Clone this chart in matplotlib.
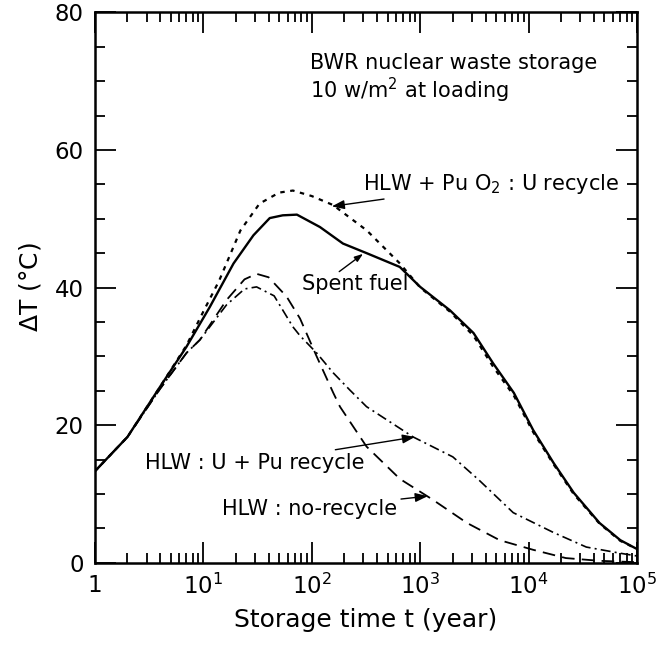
import numpy as np
import matplotlib
matplotlib.use('Agg')
from matplotlib import pyplot as plt
from matplotlib.ticker import FixedLocator, NullFormatter

# spent fuel (solid)
t_sf = [1, 2, 4, 7, 11.5, 19, 29, 41, 54, 73, 119, 194, 321, 648, 1000,
        1880, 3100, 4700, 7300, 11000, 17000, 26000, 45000, 70000, 100000]
y_sf = [13.3, 18.3, 25.6, 31.4, 37.2, 43.5, 47.6, 50.1, 50.5, 50.6, 48.8, 46.4, 45, 43, 40.1,
        36.7, 33.4, 29, 24.7, 19.3, 14.5, 10.2, 5.8, 3.3, 2.0]
# HLW + PuO2 : U recycle (dotted)
t_pu = [1, 2, 4, 7, 10, 14, 22, 33, 50, 67, 100, 157, 322, 650, 1000,
        1880, 3100, 4700, 7300, 11000, 17000, 26000, 45000, 70000, 100000]
y_pu = [13.3, 18.3, 25.6, 31.6, 36.5, 41, 48.3, 52.2, 53.8, 54.1, 53.3, 52, 48.3, 43.5, 40,
        36.5, 33, 28.5, 24.3, 19, 14.3, 10, 5.7, 3.2, 2.0]
# HLW : no-recycle (dashed)
t_nr = [1, 2, 4, 7, 9.3, 16.4, 24, 31, 40, 58.6, 78, 111, 158, 182, 320, 650,
        1300, 2700, 5400, 11000, 22000, 45000, 100000]
y_nr = [13.3, 18.3, 25.3, 30.5, 32.4, 38.2, 41.2, 42, 41.5, 38.7, 35.5, 30, 24.7, 22.7, 16.9, 12.2,
        9.2, 5.8, 3.3, 1.9, 0.7, 0.3, 0.1]
# HLW : U + Pu recycle (dash-dot)
t_up = [1, 2, 4, 7, 9.3, 16.4, 24, 31, 45, 67, 78, 111, 158, 225, 320, 860,
        2000, 3500, 7200, 17000, 34000, 70000, 100000]
y_up = [13.3, 18.3, 25.3, 30.5, 32.4, 37.5, 39.8, 40.1, 38.8, 34.3, 33, 30.5, 27.6, 25.1, 22.7, 18.3,
        15.4, 12, 7.3, 4.4, 2.3, 1.4, 1.0]

xticks = [1, 10, 100, 1000, 10000, 100000]
xticklabels = ['1', r'$10^{1}$', r'$10^{2}$', r'$10^{3}$', r'$10^{4}$', r'$10^{5}$']
yticks = [0, 20, 40, 60, 80]

plt.rcParams['font.family'] = ['DejaVu Sans']
plt.rcParams['mathtext.default'] = 'regular'

fig = plt.figure(figsize=(6.63, 6.47), dpi=100)
ax = fig.add_axes([0.143, 0.130, 0.818, 0.851])

ax.plot(t_sf, y_sf, color='black', lw=1.7, ls='-')
ax.plot(t_pu, y_pu, color='black', lw=1.6, ls=(0, (2, 2.5)))
ax.plot(t_nr, y_nr, color='black', lw=1.3, ls=(0, (7, 4)))
ax.plot(t_up, y_up, color='black', lw=1.2, ls=(0, (6, 2.5, 1.2, 2.5)))

ax.set_xscale('log')
ax.set_xlim(1, 1e5)
ax.set_ylim(0, 80)
ax.set_xticks(xticks)
ax.set_xticklabels(xticklabels)
ax.xaxis.set_minor_locator(FixedLocator([m * 10 ** d for d in range(5) for m in range(2, 10)]))
ax.xaxis.set_minor_formatter(NullFormatter())
ax.set_yticks(yticks)
ax.yaxis.set_minor_locator(FixedLocator(list(range(0, 81, 5))))

ax.tick_params(which='both', direction='in', top=True, right=True, labelsize=16.5, width=1.3, pad=8)
ax.tick_params(which='major', length=15)
ax.tick_params(which='minor', length=7)
for s in ax.spines.values():
    s.set_linewidth(1.8)

ax.set_xlabel('Storage time t (year)', fontsize=18, labelpad=6)
ax.set_ylabel(r'$\Delta$T (°C)', fontsize=18, labelpad=8)

fs = 15
ax.text(0.397, 0.897, 'BWR nuclear waste storage', transform=ax.transAxes, fontsize=fs,
        ha='left', va='baseline')
ax.text(0.397, 0.844, r'10 w/m$^2$ at loading', transform=ax.transAxes, fontsize=fs,
        ha='left', va='baseline')

arrow = dict(arrowstyle='-|>,head_length=0.5,head_width=0.18', color='black', lw=1,
             shrinkA=1, shrinkB=0)
ax.annotate(r'HLW + Pu O$_2$ : U recycle', xy=(153, 51.8), xytext=(0.494, 0.688),
            textcoords='axes fraction', fontsize=fs, va='center', ha='left', arrowprops=arrow)
ax.text(0.382, 0.507, 'Spent fuel', transform=ax.transAxes, fontsize=fs, va='center', ha='left')
ax.annotate('', xy=(297, 44.9), xytext=(175, 42.2), arrowprops=arrow)
ax.annotate('HLW : U + Pu recycle', xy=(895, 18.3), xytext=(0.092, 0.171),
            textcoords='axes fraction', fontsize=fs, va='baseline', ha='left', arrowprops=arrow)
ax.annotate('HLW : no-recycle', xy=(1175, 9.7), xytext=(0.234, 0.087),
            textcoords='axes fraction', fontsize=fs, va='baseline', ha='left', arrowprops=arrow)

fig.savefig('out.png', dpi=100)
